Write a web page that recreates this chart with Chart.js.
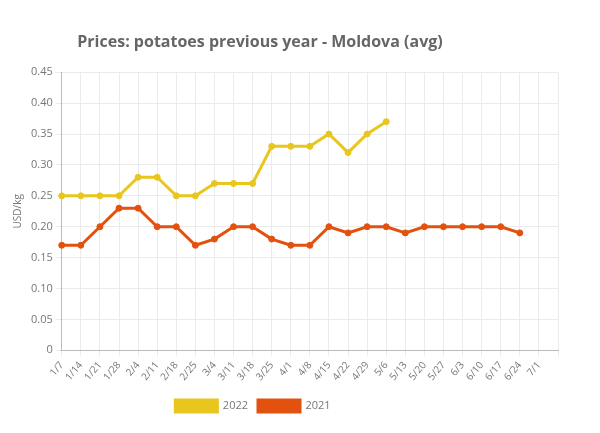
<!DOCTYPE html>
<html>
<head>
<meta charset="utf-8">
<script src="https://cdn.jsdelivr.net/npm/chart.js@4/dist/chart.umd.min.js"></script>
<style>
  html, body { margin: 0; padding: 0; background: #fff; }
  #wrap { width: 600px; height: 433px; }
</style>
</head>
<body>
<div id="wrap"><canvas id="priceChart"></canvas></div>
<script>
// week labels (last one is an empty slot, like in the original)
const weeks = ['1/7', '1/14', '1/21', '1/28', '2/4', '2/11', '2/18', '2/25', '3/4', '3/11',
    '3/18', '3/25', '4/1', '4/8', '4/15', '4/22', '4/29', '5/6', '5/13', '5/20',
    '5/27', '6/3', '6/10', '6/17', '6/24', '7/1', ''];

const prices2022 = [0.25, 0.25, 0.25, 0.25, 0.28, 0.28, 0.25, 0.25, 0.27, 0.27,
    0.27, 0.33, 0.33, 0.33, 0.35, 0.32, 0.35, 0.37];

const prices2021 = [0.17, 0.17, 0.20, 0.23, 0.23, 0.20, 0.20, 0.17, 0.18, 0.20,
    0.20, 0.18, 0.17, 0.17, 0.20, 0.19, 0.20, 0.20, 0.19, 0.20,
    0.20, 0.20, 0.20, 0.20, 0.19];

const yTicks = [0, 0.05, 0.10, 0.15, 0.20, 0.25, 0.30, 0.35, 0.40, 0.45];

const textColor = '#777';
Chart.defaults.font.family = '"Open Sans", sans-serif';

// title and legend sit a bit left of the canvas centre in the original
const shiftBlocks = {
    id: 'shiftBlocks',
    afterLayout(chart) {
        if (chart.titleBlock) chart.titleBlock.right -= 46;
        if (chart.legend) {
            chart.legend.right -= 60;
            chart.legend.top += 4;
            chart.legend.bottom += 4;
        }
    }
};

const ctx = document.getElementById('priceChart').getContext('2d');
new Chart(ctx, {
    type: 'line',
    data: {
        labels: weeks,
        datasets: [
            {
                label: '2022',
                data: prices2022,
                borderColor: '#E8C61E',
                backgroundColor: '#E8C61E',
                borderWidth: 3,
                pointRadius: 3,
                pointBorderWidth: 1,
                tension: 0,
                fill: false
            },
            {
                label: '2021',
                data: prices2021,
                borderColor: '#E2520E',
                backgroundColor: '#E2520E',
                borderWidth: 3,
                pointRadius: 3,
                pointBorderWidth: 1,
                tension: 0,
                fill: false
            }
        ]
    },
    options: {
        responsive: true,
        maintainAspectRatio: false,
        animation: false,
        layout: {
            padding: { top: 0, bottom: 15, left: 8, right: 42 }
        },
        scales: {
            x: {
                grid: { color: '#ebebeb', tickLength: 6 },
                border: { color: '#bbb' },
                ticks: {
                    color: textColor,
                    font: { size: 10 },
                    maxRotation: 50,
                    minRotation: 50,
                    autoSkip: false
                }
            },
            y: {
                min: 0,
                max: 0.45,
                afterBuildTicks(axis) {
                    axis.ticks = yTicks.map(v => ({ value: v }));
                },
                grid: { color: '#ebebeb', tickLength: 6 },
                border: { color: '#bbb' },
                title: {
                    display: true,
                    text: 'USD/kg',
                    color: textColor,
                    font: { size: 10 }
                },
                ticks: {
                    color: textColor,
                    font: { size: 11 },
                    callback: v => v === 0 ? '0' : v.toFixed(2)
                }
            }
        },
        plugins: {
            title: {
                display: true,
                text: 'Prices: potatoes previous year - Moldova (avg)',
                color: '#666',
                font: { size: 16, weight: 'bold' },
                padding: { top: 33, bottom: 20 }
            },
            legend: {
                display: true,
                position: 'bottom',
                labels: {
                    color: textColor,
                    boxWidth: 42,
                    boxHeight: 12,
                    font: { size: 11 },
                    padding: 10
                }
            },
            tooltip: { enabled: false }
        }
    },
    plugins: [shiftBlocks]
});
</script>
</body>
</html>
